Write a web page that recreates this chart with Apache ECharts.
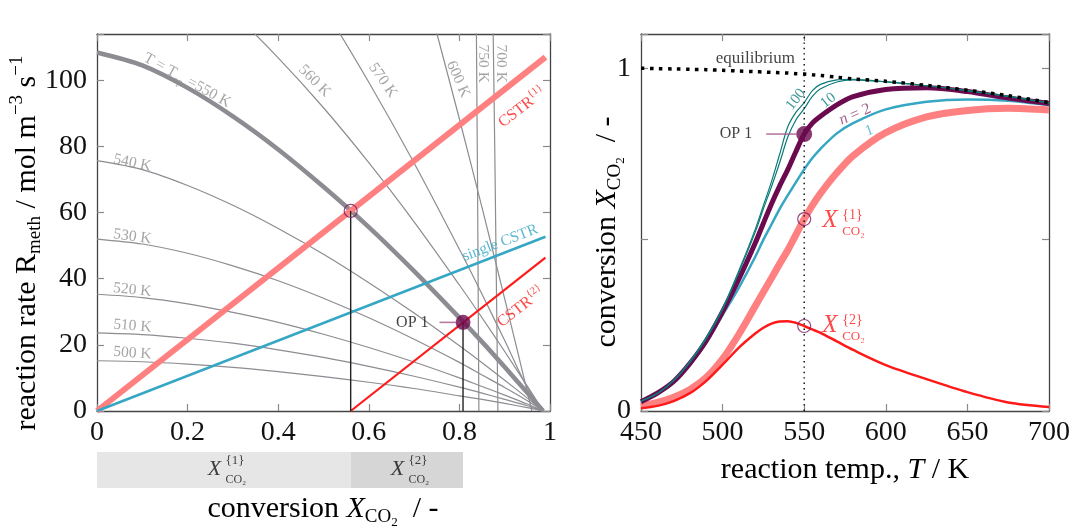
<!DOCTYPE html>
<html>
<head>
<meta charset="utf-8">
<script src="https://cdn.jsdelivr.net/npm/echarts@6/dist/echarts.min.js"></script>
<style>
  html, body { margin: 0; padding: 0; background: #fff; }
  #chart { width: 1073px; height: 531px; }
</style>
</head>
<body>
<div id="chart"></div>
<script>
// ---------- left panel: methanation rate vs. CO2 conversion ----------
const xTicksLeft = [0, 0.2, 0.4, 0.6, 0.8, 1];
const yTicksLeft = [0, 20, 40, 60, 80, 100];

const convGrid = [0, 0.1, 0.2, 0.3, 0.4, 0.5, 0.6, 0.7, 0.8, 0.85, 0.9, 0.95, 0.985];
const rate500 = [15.2, 14.9, 14.2, 13.2, 11.9, 10.4, 8.7, 6.8, 4.6, 3.5, 2.3, 1.0, 0];
const rate510 = [23.6, 23.1, 22.0, 20.5, 18.5, 16.2, 13.5, 10.5, 7.2, 5.4, 3.5, 1.6, 0];
const rate520 = [35.3, 34.3, 32.4, 29.8, 26.8, 23.2, 19.2, 14.8, 10.0, 7.4, 4.8, 2.1, 0];
const rate530 = [52.0, 50.5, 47.7, 43.9, 39.4, 34.1, 28.2, 21.7, 14.7, 10.9, 7.1, 3.1, 0];
const rate540 = [75.7, 73.0, 68.2, 62.2, 55.2, 47.4, 38.8, 29.6, 19.7, 14.6, 9.3, 3.9, 0];
const rate550 = [108.4, 104.5, 97.7, 89.1, 79.1, 67.8, 55.6, 42.3, 28.2, 20.9, 13.3, 5.5, 0];
const rate560 = [146.5, 141.2, 132.0, 120.4, 106.8, 91.7, 75.1, 57.2, 38.1, 28.2, 18.0, 7.5, 0];
const rate570 = [197, 190, 177, 161, 142.8, 122.1, 99.4, 75.0, 48.9, 35.3, 21.3, 7.0, 0];
const conv600 = [0.6, 0.7, 0.75, 0.8, 0.85, 0.9, 0.93, 0.96];
const rate600 = [188, 139.6, 114.3, 88.3, 61.5, 33.9, 17.1, 0];
const conv700 = [0.870, 0.878, 0.885];
const rate700 = [160, 80, 0];
const conv750 = [0.835, 0.840, 0.843];
const rate750 = [160, 70, 0];

// reactor operating lines (conversion, rate)
const cstr1Line = [[0, 0], [0.99, 107]];
const singleCstrLine = [[0, 0], [0.99, 52.7]];
const cstr2Line = [[0.56, 0], [0.99, 46.4]];

// operating point OP 1 at 550 K: conversion after stage 1 / stage 2 and the rates there
const opTemp = 550;
const stageConv = [0.56, 0.808];
const stageRate = [60.5, 26.8];

// ---------- right panel: CO2 conversion vs. reaction temperature ----------
const xTicksRight = [450, 500, 550, 600, 650, 700];
const tempGrid = [450, 460, 470, 480, 490, 500, 510, 520, 525, 530, 535, 540, 545, 550, 555, 560, 570, 580, 600, 625, 650, 675, 700];
const convEq   = [1.0, 0.999, 0.998, 0.997, 0.996, 0.994, 0.992, 0.990, 0.989, 0.988, 0.987, 0.986, 0.984, 0.983, 0.981, 0.979, 0.974, 0.969, 0.962, 0.950, 0.936, 0.920, 0.900];
const convN100 = [0.030, 0.052, 0.090, 0.145, 0.215, 0.300, 0.410, 0.530, 0.600, 0.670, 0.750, 0.830, 0.872, 0.900, 0.935, 0.953, 0.966, 0.968, 0.961, 0.949, 0.935, 0.918, 0.899];
const convN10  = [0.028, 0.050, 0.088, 0.142, 0.211, 0.296, 0.405, 0.522, 0.590, 0.655, 0.725, 0.800, 0.850, 0.882, 0.918, 0.940, 0.960, 0.966, 0.960, 0.949, 0.935, 0.918, 0.899];
const convN2   = [0.027, 0.052, 0.086, 0.139, 0.205, 0.290, 0.385, 0.490, 0.548, 0.605, 0.657, 0.705, 0.758, 0.808, 0.840, 0.860, 0.893, 0.917, 0.938, 0.943, 0.932, 0.913, 0.897];
const convN1   = [0.027, 0.050, 0.083, 0.135, 0.200, 0.280, 0.360, 0.450, 0.500, 0.545, 0.590, 0.630, 0.668, 0.705, 0.738, 0.765, 0.810, 0.840, 0.880, 0.902, 0.909, 0.905, 0.892];
const convStage1 = [0.015, 0.025, 0.040, 0.063, 0.098, 0.152, 0.224, 0.306, 0.347, 0.388, 0.430, 0.470, 0.515, 0.560, 0.600, 0.635, 0.695, 0.745, 0.812, 0.858, 0.877, 0.883, 0.878];
const convStage2 = [0.008, 0.015, 0.029, 0.052, 0.088, 0.135, 0.185, 0.226, 0.243, 0.255, 0.261, 0.262, 0.257, 0.248, 0.238, 0.228, 0.203, 0.178, 0.134, 0.093, 0.055, 0.025, 0.012];

// ---------- styling ----------
const SERIF = "'Liberation Serif', 'DejaVu Serif', serif";
const GRAY = '#8c8c92';
const LABEL_GRAY = '#8f8f8f';
const SALMON = '#ff8080';
const BLUE = '#35a7c4';
const RED = '#ff1a1a';
const PURPLE = '#6b0a4e';
const TEAL = '#0b7b7a';
const PIN = '#a4588b';

const pts = (xs, ys) => xs.map((x, i) => [x, ys[i]]);
const near = (list, v) => list.some(t => Math.abs(t - v) < 1e-6);

function frameAxis(extra) {
  return Object.assign({
    type: 'value',
    axisLine: { show: true, onZero: false, lineStyle: { color: '#444', width: 1.3 } },
    axisTick: { show: true, inside: true, length: 7, lineStyle: { color: '#8a8a8a', width: 1.2 } },
    axisLabel: { show: false },
    splitLine: { show: false }
  }, extra);
}
const tickFont = { fontFamily: SERIF, fontSize: 28, color: '#111' };

function line(ai, data, color, width, extra) {
  return Object.assign({
    type: 'line', xAxisIndex: ai, yAxisIndex: ai, data, symbol: 'none', silent: true,
    lineStyle: { color, width }, z: 2
  }, extra || {});
}

// text anchored at a data point
function note(at, text, opts) {
  return {
    value: at,
    label: Object.assign({
      show: true, position: 'inside', formatter: () => text,
      fontFamily: SERIF, fontSize: 15.5, color: LABEL_GRAY, align: 'center', verticalAlign: 'middle'
    }, opts || {})
  };
}
function annotations(ai, data) {
  return {
    type: 'scatter', xAxisIndex: ai, yAxisIndex: ai, symbolSize: 1, silent: true, z: 30,
    itemStyle: { color: 'rgba(0,0,0,0)' }, data
  };
}
// X with stacked superscript {k} and subscript CO2
function stackedX(at, k, color, xSize, dx, dy) {
  const small = Math.round(xSize * 0.58);
  return [
    note(at, 'X', { color, fontSize: xSize, fontStyle: 'italic', align: 'left', offset: [dx, dy[0]] }),
    note(at, '{' + k + '}', { color, fontSize: small, align: 'left', offset: [dx + xSize * 0.8, dy[1]] }),
    note(at, 'CO\u2082', { color, fontSize: small - 1, align: 'left', offset: [dx + xSize * 0.8, dy[2]] })
  ];
}

const titleRich = {
  r: { fontFamily: SERIF, fontSize: 30, color: '#111', lineHeight: 40 },
  i: { fontFamily: SERIF, fontSize: 30, color: '#111', lineHeight: 40, fontStyle: 'italic' },
  s: { fontFamily: SERIF, fontSize: 19, color: '#111', verticalAlign: 'bottom', padding: [0, 0, 2, 0] },
  s2: { fontFamily: SERIF, fontSize: 13, color: '#111', verticalAlign: 'bottom' },
  p: { fontFamily: SERIF, fontSize: 19, color: '#111', verticalAlign: 'top', padding: [1, 0, 0, 0] }
};
const convTitle = '{r|conversion }{i|X}{s|CO}{s2|2}{r|  / -}';

const chart = echarts.init(document.getElementById('chart'), null, { renderer: 'canvas' });

const option = {
  animation: false,
  backgroundColor: '#fff',
  grid: [
    { left: 97, top: 34, width: 453, height: 377 },
    { left: 97, top: 452, width: 453, height: 36 },
    { left: 641, top: 34, width: 409, height: 377 }
  ],
  xAxis: [
    frameAxis({ gridIndex: 0, min: 0, max: 1, interval: 0.2, position: 'bottom',
      axisLabel: Object.assign({ show: true, margin: 8, formatter: v => near(xTicksLeft, v) ? String(+v.toFixed(1)) : '' }, tickFont) }),
    frameAxis({ gridIndex: 0, min: 0, max: 1, interval: 0.2, position: 'top' }),
    { gridIndex: 1, type: 'value', min: 0, max: 1, show: false },
    frameAxis({ gridIndex: 2, min: 450, max: 700, interval: 50, position: 'bottom',
      axisLabel: Object.assign({ show: true, margin: 8, formatter: v => near(xTicksRight, v) ? String(v) : '' }, tickFont) }),
    frameAxis({ gridIndex: 2, min: 450, max: 700, interval: 50, position: 'top' })
  ],
  yAxis: [
    frameAxis({ gridIndex: 0, min: 0, max: 114, interval: 20, position: 'left',
      axisLabel: Object.assign({ show: true, margin: 10, formatter: v => near(yTicksLeft, v) ? String(v) : '' }, tickFont) }),
    frameAxis({ gridIndex: 0, min: 0, max: 114, interval: 20, position: 'right' }),
    { gridIndex: 1, type: 'value', min: 0, max: 1, show: false },
    frameAxis({ gridIndex: 2, min: 0, max: 1.1, interval: 0.5, position: 'left',
      axisLabel: Object.assign({ show: true, margin: 10, formatter: v => (near([0, 1], v) ? String(v) : '') }, tickFont) }),
    frameAxis({ gridIndex: 2, min: 0, max: 1.1, interval: 0.5, position: 'right' })
  ],
  graphic: [
    { type: 'text', x: 27, y: 243, rotation: Math.PI / 2, silent: true,
      style: { text: '{r|reaction rate R}{s|meth}{r| / mol m}{p|\u22123}{r| s}{p|\u22121}', rich: titleRich, align: 'center', verticalAlign: 'middle' } },
    { type: 'text', x: 323, y: 509, silent: true,
      style: { text: convTitle, rich: titleRich, align: 'center', verticalAlign: 'middle' } },
    { type: 'text', x: 607, y: 232, rotation: Math.PI / 2, silent: true,
      style: { text: convTitle, rich: titleRich, align: 'center', verticalAlign: 'middle' } },
    { type: 'text', x: 845, y: 470, silent: true,
      style: { text: '{r|reaction temp., }{i|T}{r| / K}', rich: titleRich, align: 'center', verticalAlign: 'middle' } }
  ],
  series: [
    // --- left: rate curves at constant temperature ---
    ...[[convGrid, rate500], [convGrid, rate510], [convGrid, rate520], [convGrid, rate530], [convGrid, rate540],
        [convGrid, rate560], [convGrid, rate570], [conv600, rate600]]
      .map(([xs, ys]) => line(0, pts(xs, ys), GRAY, 1.2, { smooth: 0.3 })),
    line(0, pts(conv700, rate700), GRAY, 1.2),
    line(0, pts(conv750, rate750), GRAY, 1.2),
    line(0, pts(convGrid, rate550), GRAY, 4.5, { smooth: 0.3, z: 3 }),
    // --- left: reactor operating lines ---
    line(0, cstr1Line, SALMON, 6, { z: 4 }),
    line(0, singleCstrLine, BLUE, 2.5, { z: 4 }),
    line(0, cstr2Line, RED, 2.2, { z: 4 }),
    line(0, [[stageConv[0], 0], [stageConv[0], stageRate[0]]], '#222', 1.4, { z: 5 }),
    line(0, [[stageConv[1], 0], [stageConv[1], stageRate[1]]], '#222', 1.4, { z: 5 }),
    {
      type: 'scatter', xAxisIndex: 0, yAxisIndex: 0, silent: true, z: 10, symbolSize: 13,
      itemStyle: { color: 'rgba(0,0,0,0)', borderColor: '#7a1a5e', borderWidth: 1.2 },
      data: [[stageConv[0], stageRate[0]]]
    },
    {
      type: 'scatter', xAxisIndex: 0, yAxisIndex: 0, silent: true, z: 11, symbolSize: 15,
      itemStyle: { color: PURPLE },
      data: [[stageConv[1], stageRate[1]]],
      label: {
        show: true, position: 'left', distance: 0, formatter: '{t|OP 1}{g|}{p|}',
        rich: {
          t: { fontFamily: SERIF, fontSize: 16, color: '#111' },
          g: { width: 11 },
          p: { width: 16, height: 1.6, backgroundColor: PIN }
        }
      }
    },
    annotations(0, [
      note([0.199, 100], '{g|T = T}{gs|op}{g| =550 K}', { rotate: -29,
        rich: { g: { fontFamily: SERIF, fontSize: 15.5, color: LABEL_GRAY, lineHeight: 22 },
                gs: { fontFamily: SERIF, fontSize: 10.5, color: LABEL_GRAY, verticalAlign: 'bottom' } } }),
      note([0.48, 99.8], '560 K', { rotate: -45 }),
      note([0.631, 100], '570 K', { rotate: -55 }),
      note([0.797, 100.3], '600 K', { rotate: -66 }),
      note([0.852, 105], '750 K', { rotate: -90 }),
      note([0.893, 105], '700 K', { rotate: -90 }),
      note([0.078, 75], '540 K', { rotate: -12 }),
      note([0.078, 52.7], '530 K', { rotate: -8 }),
      note([0.078, 36.6], '520 K', { rotate: -6 }),
      note([0.078, 25.7], '510 K', { rotate: -5 }),
      note([0.078, 17.5], '500 K', { rotate: -4 }),
      note([0.89, 50.8], 'single CSTR', { rotate: 21, color: BLUE }),
      note([0.932, 93], '{m|CSTR}{1}', { rotate: 38, color: RED, fontSize: 10.5, lineHeight: 26,
        rich: { m: { fontFamily: SERIF, fontSize: 16, color: RED, verticalAlign: 'bottom' } } }),
      note([0.929, 32.6], '{m|CSTR}{2}', { rotate: 38, color: RED, fontSize: 10.5, lineHeight: 26,
        rich: { m: { fontFamily: SERIF, fontSize: 16, color: RED, verticalAlign: 'bottom' } } })
    ]),
    // --- left: stage bands below the axis ---
    Object.assign(annotations(2, [
      ...stackedX([stageConv[0] / 2, 0.5], 1, '#111', 22, -16, [-1, -9, 10]),
      ...stackedX([(stageConv[0] + stageConv[1]) / 2, 0.5], 2, '#111', 22, -16, [-1, -9, 10])
    ]), {
      markArea: {
        silent: true, label: { show: false },
        data: [
          [{ xAxis: 0, itemStyle: { color: '#e6e6e6', opacity: 1 } }, { xAxis: stageConv[0] }],
          [{ xAxis: stageConv[0], itemStyle: { color: '#d6d6d6', opacity: 1 } }, { xAxis: stageConv[1] }]
        ]
      }
    }),

    // --- right: conversion curves ---
    line(3, pts(tempGrid, convStage1), SALMON, 7, { smooth: 0.3 }),
    line(3, pts(tempGrid, convStage2), RED, 2.5, { smooth: 0.3 }),
    line(3, pts(tempGrid, convN1), BLUE, 2.5, { smooth: 0.3 }),
    line(3, pts(tempGrid, convN2), PURPLE, 5, { smooth: 0.3, z: 3 }),
    line(3, pts(tempGrid, convN10), TEAL, 1.2, { smooth: 0.3, z: 4 }),
    line(3, pts(tempGrid, convN100), TEAL, 1.2, { smooth: 0.3, z: 4 }),
    line(3, pts(tempGrid, convEq), '#000', 3.5, { smooth: 0.3, z: 5,
      lineStyle: { color: '#000', width: 3.5, type: [3.5, 5.5], cap: 'butt' } }),
    line(3, [[opTemp, 0], [opTemp, 1.1]], '#000', 1.4, { z: 6,
      lineStyle: { color: '#000', width: 1.4, type: [1.4, 4] } }),
    {
      type: 'scatter', xAxisIndex: 3, yAxisIndex: 3, silent: true, z: 10, symbolSize: 13,
      itemStyle: { color: 'rgba(0,0,0,0)', borderColor: '#7a1a5e', borderWidth: 1.2 },
      data: [[opTemp, stageConv[0]], [opTemp, stageConv[1] - stageConv[0]]]
    },
    {
      type: 'scatter', xAxisIndex: 3, yAxisIndex: 3, silent: true, z: 11, symbolSize: 16,
      itemStyle: { color: PURPLE },
      data: [[opTemp, stageConv[1]]],
      label: {
        show: true, position: 'left', distance: 0, formatter: '{t|OP 1}{g|}{p|}',
        rich: {
          t: { fontFamily: SERIF, fontSize: 16, color: '#111' },
          g: { width: 14 },
          p: { width: 30, height: 1.6, backgroundColor: PIN }
        }
      }
    },
    annotations(3, [
      note([520.1, 1.029], 'equilibrium', { color: '#111', fontSize: 17 }),
      note([544.9, 0.909], '100', { color: TEAL, rotate: 52, fontSize: 15 }),
      note([564.8, 0.906], '10', { color: TEAL, rotate: 38, fontSize: 15 }),
      note([581.1, 0.865], '{ni|n}{nr| = 2}', { rotate: 23,
        rich: { ni: { fontFamily: SERIF, fontSize: 16, fontStyle: 'italic', color: '#8b3d74' },
                nr: { fontFamily: SERIF, fontSize: 16, color: '#8b3d74' } } }),
      note([590, 0.818], '1', { color: BLUE, rotate: 20, fontSize: 15 }),
      ...stackedX([opTemp, stageConv[0]], 1, RED, 25, 18, [1.5, -4, 13]),
      ...stackedX([opTemp, stageConv[1] - stageConv[0]], 2, RED, 25, 18, [-1, -6, 11])
    ])
  ]
};

chart.setOption(option);
</script>
</body>
</html>
